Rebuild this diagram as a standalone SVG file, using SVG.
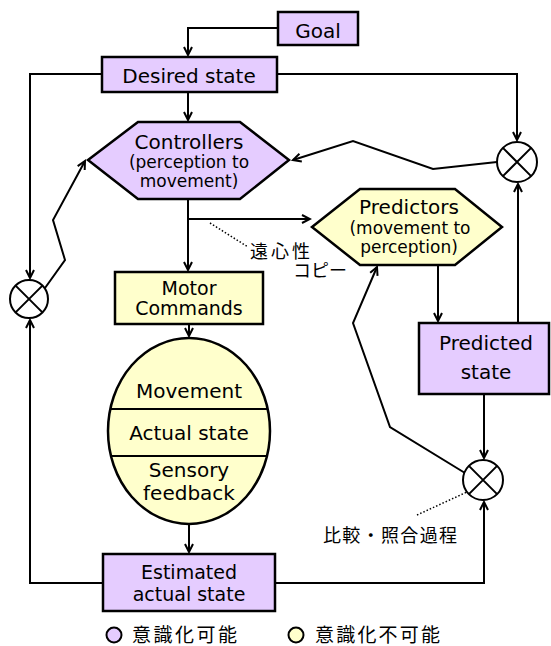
<svg xmlns="http://www.w3.org/2000/svg" width="551" height="646" viewBox="0 0 551 646">
<defs>
<marker id="arr" markerUnits="userSpaceOnUse" markerWidth="12" markerHeight="12" viewBox="-10 -6 12 12" refX="0" refY="0" orient="auto">
<path d="M-8,-4 L0,0 L-8,4" fill="none" stroke="#000" stroke-width="2"/>
</marker>
<style>
.p{fill:#E5CCFF;stroke:#000;stroke-width:2.5}
.y{fill:#FFFFCC;stroke:#000;stroke-width:2.5}
.ln{fill:none;stroke:#000;stroke-width:2}
.a{marker-end:url(#arr)}
.dot{fill:none;stroke:#000;stroke-width:1.5;stroke-dasharray:1.5 2}
.t{font-family:"DejaVu Sans","Liberation Sans",sans-serif;font-size:20px;text-anchor:middle;fill:#000}
.s{font-size:17px}
.m{font-size:19px}
.j{font-family:"Noto Sans CJK JP","DejaVu Sans",sans-serif;font-size:18px;fill:#000}
.lg{font-size:19px}
.c{fill:#fff;stroke:#000;stroke-width:2}
</style>
</defs>
<g id="connectors">
<polyline class="ln a" points="278,28 188,28 188,55"/>
<polyline class="ln a" points="188,92 188,120"/>
<polyline class="ln a" points="102,74 30,74 30,278"/>
<polyline class="ln a" points="277,74 517,74 517,140"/>
<polyline class="ln a" points="497,162 433,169 353,141 293,160"/>
<polyline class="ln a" points="188,199 188,270"/>
<polyline class="ln a" points="188,219 310,219"/>
<polyline class="ln a" points="438,265 438,321"/>
<polyline class="ln a" points="518,323 518,184"/>
<polyline class="ln a" points="484,394 484,458"/>
<polyline class="ln a" points="465,473 390,427 353,323 377,267"/>
<polyline class="ln a" points="189,324 189,336"/>
<polyline class="ln a" points="189,524 189,552"/>
<polyline class="ln a" points="103,583 30,583 30,320"/>
<polyline class="ln a" points="45,288 65,260 53,220 85,161"/>
<polyline class="ln a" points="275,583 484,583 484,502"/>
<line class="dot" x1="210" y1="223" x2="248" y2="247"/>
<line class="dot" x1="417" y1="515" x2="467" y2="492"/>
</g>
<g id="goal">
<rect class="p" x="278" y="12" width="80" height="33"/>
<text class="t" x="318" y="38">Goal</text>
</g>
<g id="desired">
<rect class="p" x="102" y="57" width="175" height="35"/>
<text class="t" x="189" y="83">Desired state</text>
</g>
<g id="controllers">
<polygon class="p" points="88,160 138,122 240,122 289,160 240,199 138,199"/>
<text class="t" x="189" y="149">Controllers</text>
<text class="t s" x="189" y="168">(perception to</text>
<text class="t s" x="189" y="187">movement)</text>
</g>
<g id="predictors">
<polygon class="y" points="312,227 360,189 455,189 502,227 455,265 360,265"/>
<text class="t" x="409" y="214">Predictors</text>
<text class="t s" x="410" y="234">(movement to</text>
<text class="t s" x="409" y="253">perception)</text>
</g>
<g id="motor">
<rect class="y" x="115" y="272" width="148" height="52"/>
<text class="t m" x="189" y="295">Motor</text>
<text class="t m" x="189" y="315">Commands</text>
</g>
<g id="body">
<ellipse class="y" cx="189" cy="431" rx="81" ry="93"/>
<line class="ln" x1="111" y1="409" x2="267" y2="409"/>
<line class="ln" x1="111" y1="456" x2="267" y2="456"/>
<text class="t" x="189" y="398">Movement</text>
<text class="t" x="189" y="440">Actual state</text>
<text class="t" x="189" y="477">Sensory</text>
<text class="t" x="189" y="500">feedback</text>
</g>
<g id="predicted">
<rect class="p" x="419" y="323" width="130" height="71"/>
<text class="t" x="486" y="350">Predicted</text>
<text class="t" x="486" y="379">state</text>
</g>
<g id="estimated">
<rect class="p" x="103" y="554" width="172" height="57"/>
<text class="t m" x="189" y="579">Estimated</text>
<text class="t m" x="189" y="601">actual state</text>
</g>
<g id="cmp-left">
<circle class="c" cx="29" cy="299" r="19"/>
<path class="ln" d="M15.6,285.6 L42.4,312.4 M42.4,285.6 L15.6,312.4"/>
</g>
<g id="cmp-top">
<circle class="c" cx="517" cy="162" r="20"/>
<path class="ln" d="M502.9,147.9 L531.1,176.1 M531.1,147.9 L502.9,176.1"/>
</g>
<g id="cmp-bottom">
<circle class="c" cx="483" cy="480" r="20"/>
<path class="ln" d="M468.9,465.9 L497.1,494.1 M497.1,465.9 L468.9,494.1"/>
</g>
<g id="labels">
<text class="j" x="250" y="258" textLength="60">遠心性</text>
<text class="j" x="293" y="277" textLength="54">コピー</text>
<text class="j" x="323" y="542" textLength="134">比較・照合過程</text>
</g>
<g id="legend">
<circle cx="114" cy="635" r="7.5" fill="#E5CCFF" stroke="#000" stroke-width="2"/>
<text class="j lg" x="132" y="642" textLength="105">意識化可能</text>
<circle cx="296" cy="635" r="7.5" fill="#FFFFCC" stroke="#000" stroke-width="2"/>
<text class="j lg" x="315" y="642" textLength="125">意識化不可能</text>
</g>
</svg>
